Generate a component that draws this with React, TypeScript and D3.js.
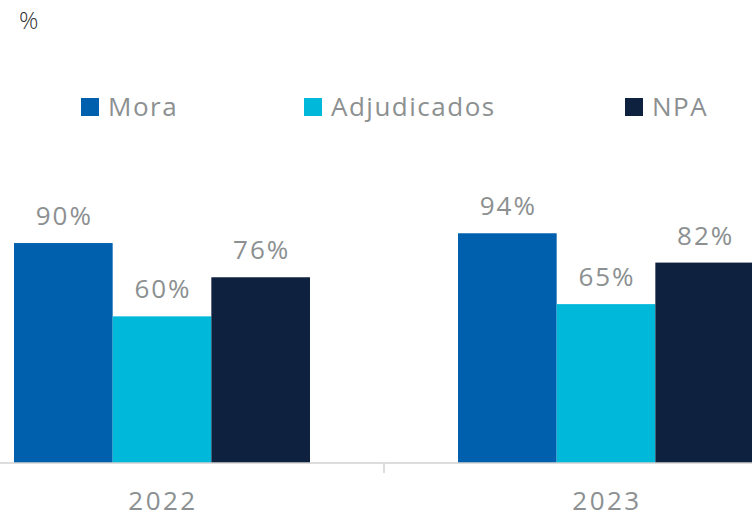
import React, { useEffect, useRef } from "react";
import * as d3 from "d3";

const years = ["2022", "2023"];
const seriesNames = ["Mora", "Adjudicados", "NPA"];
const mora = [90, 94];
const adjudicados = [60, 65];
const npa = [76, 82];
const colors = ["#0060ae", "#00b8da", "#0e2240"];

const W = 752;
const H = 519;
const textGray = "#8c9091";
const font = "'Open Sans', sans-serif";

export default function App() {
  const ref = useRef<SVGSVGElement>(null);

  useEffect(() => {
    const svg = d3.select(ref.current);
    svg.selectAll("*").remove();

    const values = [mora, adjudicados, npa];
    const rows = years.map((y, i) => ({
      year: y,
      vals: seriesNames.map((s, j) => ({ key: s, idx: j, value: values[j][i] })),
    }));

    // chart is cropped on the right, so the band range runs past the svg
    const x0 = d3.scaleBand().domain(years).range([-60, 828]).padding(0);
    const x1 = d3
      .scaleBand()
      .domain(seriesNames)
      .range([74, x0.bandwidth() - 74])
      .padding(0);
    const y = d3.scaleLinear().domain([0, 100]).range([463, 218.6]);

    // "%" unit
    svg
      .append("text")
      .attr("x", 19)
      .attr("y", 29)
      .style("font-family", font)
      .style("font-size", "24px")
      .style("font-weight", 300)
      .attr("fill", "#333")
      .text("%");

    // legend
    const legendX = [81, 304, 625];
    const legend = svg
      .selectAll("g.legend")
      .data(seriesNames)
      .enter()
      .append("g")
      .attr("class", "legend")
      .attr("transform", (d, i) => `translate(${legendX[i]},98)`);
    legend
      .append("rect")
      .attr("width", 18)
      .attr("height", 18)
      .attr("fill", (d, i) => colors[i]);
    legend
      .append("text")
      .attr("x", 27)
      .attr("y", 18)
      .style("font-family", font)
      .style("font-size", "26px")
      .style("letter-spacing", "1.5px")
      .attr("fill", textGray)
      .text((d) => d);

    const groups = svg
      .selectAll("g.group")
      .data(rows)
      .enter()
      .append("g")
      .attr("class", "group")
      .attr("transform", (d) => `translate(${x0(d.year)},0)`);

    groups
      .selectAll("rect")
      .data((d) => d.vals)
      .enter()
      .append("rect")
      .attr("x", (d) => x1(d.key)!)
      .attr("y", (d) => y(d.value))
      .attr("width", x1.bandwidth())
      .attr("height", (d) => y(0) - y(d.value))
      .attr("fill", (d) => colors[d.idx]);

    groups
      .selectAll("text.lbl")
      .data((d) => d.vals)
      .enter()
      .append("text")
      .attr("class", "lbl")
      .attr("x", (d) => x1(d.key)! + x1.bandwidth() / 2 + 1)
      .attr("y", (d) => y(d.value) - 18)
      .attr("text-anchor", "middle")
      .style("font-family", font)
      .style("font-size", "26px")
      .style("letter-spacing", "2px")
      .attr("fill", textGray)
      .text((d) => `${d.value}%`);

    // x axis
    const axis = svg.append("g").attr("transform", `translate(0,${y(0)})`);
    axis
      .append("line")
      .attr("x1", 0)
      .attr("x2", W)
      .attr("stroke", "#d2d2d2")
      .attr("stroke-width", 1.5);
    axis
      .append("line")
      .attr("x1", x0("2023")!)
      .attr("x2", x0("2023")!)
      .attr("y1", 0)
      .attr("y2", 10)
      .attr("stroke", "#d2d2d2")
      .attr("stroke-width", 1.5);
    axis
      .selectAll("text")
      .data(years)
      .enter()
      .append("text")
      .attr("x", (d) => x0(d)! + x0.bandwidth() / 2 + 1)
      .attr("y", 47)
      .attr("text-anchor", "middle")
      .style("font-family", font)
      .style("font-size", "26px")
      .style("letter-spacing", "2.5px")
      .attr("fill", textGray)
      .text((d) => d);
  }, []);

  return (
    <svg
      ref={ref}
      width={W}
      height={H}
      style={{ position: "absolute", left: 0, top: 0, background: "#fff" }}
    />
  );
}
